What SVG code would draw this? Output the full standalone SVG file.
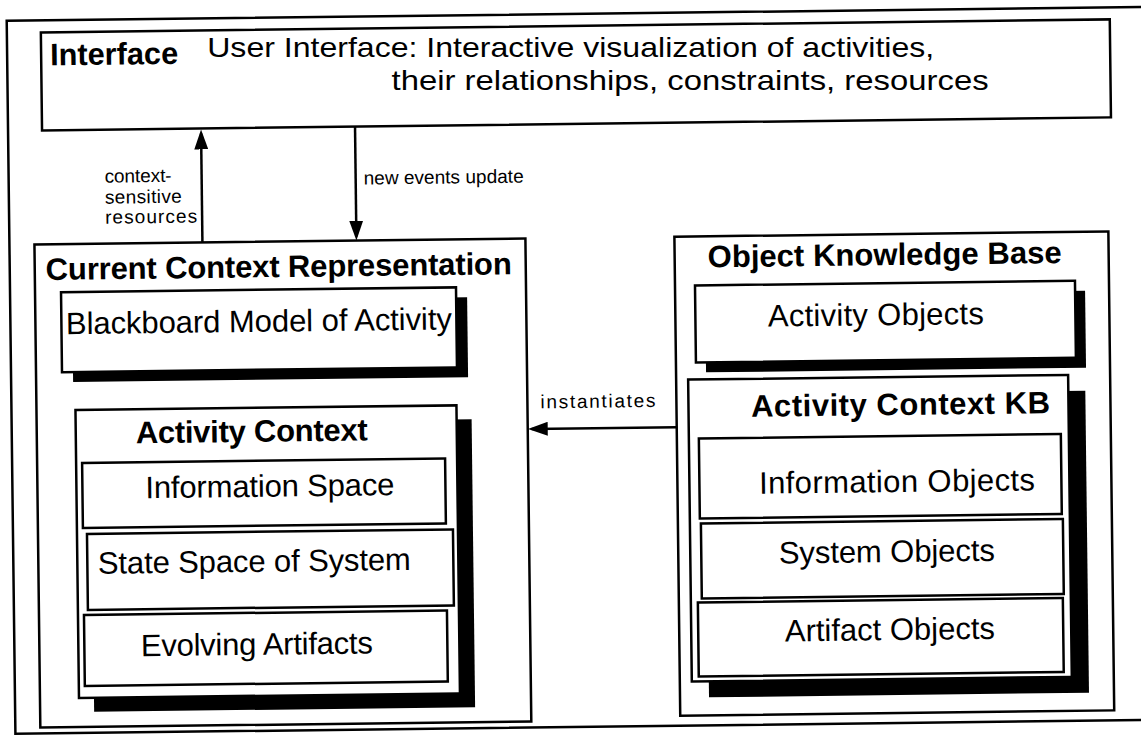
<svg xmlns="http://www.w3.org/2000/svg" width="1141" height="738" viewBox="0 0 1141 738">
<defs>
  <marker id="arrow" markerUnits="userSpaceOnUse" markerWidth="20" markerHeight="14" viewBox="0 0 20 14" refX="16" refY="7" orient="auto">
    <path d="M0,0 L20,7 L0,14 z" fill="#000"/>
  </marker>
</defs>
<style>
  .box{fill:#fff;stroke:#000;stroke-width:2.5}
  .frame{fill:none;stroke:#000;stroke-width:2.5}
  .shadow{fill:#000}
  .t{font-family:"Liberation Sans",Arial,sans-serif;fill:#000}
  .big{font-size:31px}
  .head{font-size:28px}
  .bold{font-weight:bold}
  .small{font-size:19px}
  .conn{stroke:#000;stroke-width:2.5;fill:none;marker-end:url(#arrow)}
</style>
<rect width="1141" height="738" fill="#fff"/>
<g transform="rotate(-0.7 570 369)">
  <rect id="frame" class="frame" x="11" y="14" width="1160" height="713"/>

  <g id="interface">
    <rect class="box" x="45" y="26" width="1069" height="98"/>
    <text class="t big bold" x="54" y="59" textLength="128" lengthAdjust="spacingAndGlyphs">Interface</text>
    <!-- the two description lines are kept level so their line boxes stay apart -->
    <g transform="rotate(0.7 575 58)">
      <text class="t head" x="211" y="57.5" textLength="727" lengthAdjust="spacingAndGlyphs">User Interface: Interactive visualization of activities,</text>
    </g>
    <g transform="rotate(0.7 693 90)">
      <text class="t head" x="395" y="91" textLength="597" lengthAdjust="spacingAndGlyphs">their relationships, constraints, resources</text>
    </g>
  </g>

  <g id="current-context">
    <rect class="box" x="36" y="238" width="491" height="483"/>
    <text class="t big bold" x="47" y="273.5" textLength="466">Current Context Representation</text>
  </g>

  <g id="blackboard">
    <rect class="shadow" x="73" y="296" width="395" height="80"/>
    <rect class="box" x="62" y="286" width="395" height="80"/>
    <text class="t big" x="66.5" y="328" textLength="386">Blackboard Model of Activity</text>
  </g>

  <g id="activity-context">
    <rect class="shadow" x="90" y="418" width="381" height="288"/>
    <rect class="box" x="75" y="404" width="381" height="288"/>
    <text class="t big bold" x="135" y="438" textLength="232">Activity Context</text>
  </g>

  <g id="information-space">
    <rect class="box" x="81" y="457" width="363" height="65"/>
    <text class="t big" x="144" y="493" textLength="249">Information Space</text>
  </g>

  <g id="state-space">
    <rect class="box" x="85" y="528" width="366" height="76"/>
    <text class="t big" x="95.5" y="568" textLength="313">State Space of System</text>
  </g>

  <g id="evolving-artifacts">
    <rect class="box" x="81" y="609" width="363" height="71"/>
    <text class="t big" x="137.5" y="651" textLength="232">Evolving Artifacts</text>
  </g>

  <g id="object-kb">
    <rect class="box" x="676" y="238" width="434" height="479"/>
    <text class="t big bold" x="709" y="269" textLength="354">Object Knowledge Base</text>
  </g>

  <g id="activity-objects">
    <rect class="shadow" x="706" y="297" width="380" height="77"/>
    <rect class="box" x="696" y="287" width="380" height="77"/>
    <text class="t big" x="768.5" y="329" textLength="216">Activity Objects</text>
  </g>

  <g id="activity-context-kb">
    <rect class="shadow" x="705" y="397" width="380" height="302"/>
    <rect class="box" x="688" y="381" width="380" height="302"/>
    <text class="t big bold" x="750.6" y="419" textLength="299">Activity Context KB</text>
  </g>

  <g id="information-objects">
    <rect class="box" x="698" y="440" width="362" height="80"/>
    <text class="t big" x="757.6" y="496" textLength="276">Information Objects</text>
  </g>

  <g id="system-objects">
    <rect class="box" x="699" y="525" width="362" height="75"/>
    <text class="t big" x="776.6" y="566" textLength="216">System Objects</text>
  </g>

  <g id="artifact-objects">
    <rect class="box" x="695" y="604" width="365" height="74"/>
    <text class="t big" x="781.7" y="644" textLength="210">Artifact Objects</text>
  </g>

  <g id="connectors">
    <line class="conn" x1="204" y1="238" x2="204" y2="129"/>
    <text class="t small" x="107" y="177" textLength="67">context-</text>
    <text class="t small" x="107" y="198" textLength="77">sensitive</text>
    <text class="t small" x="107" y="218" textLength="92">resources</text>

    <line class="conn" x1="358" y1="124" x2="358" y2="234"/>
    <text class="t small" x="366" y="182" textLength="160">new events update</text>

    <line class="conn" x1="676" y1="428.5" x2="531" y2="428.5"/>
    <text class="t small" x="540" y="408" textLength="115">instantiates</text>
  </g>
</g>
</svg>
